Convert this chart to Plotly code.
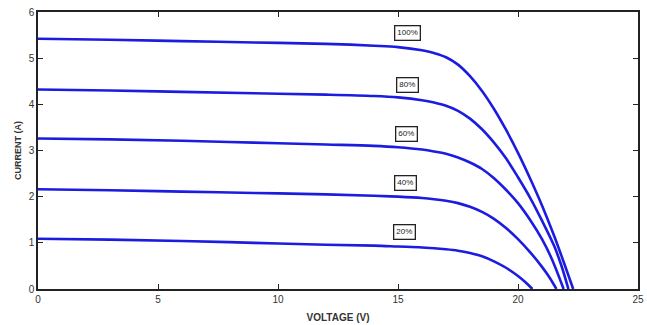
import plotly.graph_objects as go

# Irradiance levels and their I-V curves
levels = ["100%", "80%", "60%", "40%", "20%"]

v_100 = [0, 3, 6, 9, 12, 14, 15, 16, 16.5, 17, 17.5, 18, 18.5, 19, 19.5, 20, 20.5, 21, 21.5, 21.9, 22.3]
i_100 = [5.42, 5.40, 5.37, 5.34, 5.31, 5.27, 5.24, 5.17, 5.11, 5.02, 4.86, 4.61, 4.29, 3.90, 3.45, 2.95, 2.40, 1.81, 1.16, 0.59, 0.0]

v_80 = [0, 3, 6, 9, 12, 14, 15, 16, 16.5, 17, 17.5, 18, 18.5, 19, 19.5, 20, 20.5, 21, 21.5, 21.8, 22.1]
i_80 = [4.32, 4.30, 4.27, 4.24, 4.21, 4.18, 4.15, 4.09, 4.04, 3.97, 3.86, 3.69, 3.46, 3.17, 2.83, 2.42, 1.98, 1.48, 0.94, 0.52, 0.0]

v_60 = [0, 3, 6, 9, 12, 14, 15, 16, 16.5, 17, 17.5, 18, 18.5, 19, 19.5, 20, 20.5, 21, 21.4, 21.9]
i_60 = [3.26, 3.24, 3.21, 3.17, 3.13, 3.10, 3.07, 3.02, 2.98, 2.93, 2.85, 2.74, 2.60, 2.40, 2.15, 1.86, 1.50, 1.08, 0.66, 0.0]

v_40 = [0, 3, 6, 9, 12, 14, 15, 16, 16.5, 17, 17.5, 18, 18.5, 19, 19.5, 20, 20.5, 21, 21.3, 21.6]
i_40 = [2.16, 2.14, 2.11, 2.08, 2.05, 2.02, 2.00, 1.97, 1.945, 1.91, 1.86, 1.78, 1.67, 1.52, 1.32, 1.08, 0.80, 0.48, 0.26, 0.0]

v_20 = [0, 3, 6, 9, 12, 14, 15, 16, 17, 17.5, 18, 18.5, 19, 19.5, 20, 20.3, 20.6]
i_20 = [1.09, 1.07, 1.04, 1.00, 0.96, 0.94, 0.92, 0.90, 0.86, 0.83, 0.78, 0.71, 0.60, 0.46, 0.28, 0.15, 0.0]

# label anchor positions (data units)
label_v = [15.4, 15.4, 15.35, 15.3, 15.25]
label_i = [5.54, 4.42, 3.35, 2.29, 1.23]

x_ticks = [0, 5, 10, 15, 20, 25]
y_ticks = [0, 1, 2, 3, 4, 5, 6]

series = [(v_100, i_100), (v_80, i_80), (v_60, i_60), (v_40, i_40), (v_20, i_20)]

FONT = "Liberation Sans Narrow, Arial Narrow, Arial"

fig = go.Figure()
for (vv, ii), name in zip(series, levels):
    fig.add_trace(go.Scatter(
        x=vv, y=ii, mode="lines", name=name,
        line=dict(color="#1c1ce0", width=2.6, shape="spline", smoothing=1.0),
        showlegend=False, hoverinfo="skip",
    ))

for name, lv, li in zip(levels, label_v, label_i):
    fig.add_annotation(
        x=lv, y=li, text=name, showarrow=False,
        font=dict(family=FONT, size=8, color="#222"),
        bgcolor="white", bordercolor="#222", borderwidth=1.3, borderpad=2,
    )

axis_common = dict(
    showline=True, linecolor="#222", linewidth=1.5, mirror="ticks",
    ticks="inside", ticklen=5, tickwidth=1.2, tickcolor="#222",
    showgrid=False, zeroline=False, automargin=False,
    tickfont=dict(family=FONT, size=10, color="#333"),
)

fig.update_xaxes(range=[0, 25], tickvals=x_ticks, **axis_common,
                 title=dict(text="<b>VOLTAGE (V)</b>", standoff=10,
                            font=dict(family=FONT, size=10, color="#333")))
fig.update_yaxes(range=[0, 6], tickvals=y_ticks, **axis_common,
                 title=dict(text="<b>CURRENT (A)</b>", standoff=6,
                            font=dict(family=FONT, size=9, color="#333")))

fig.update_layout(
    width=647, height=325,
    margin=dict(l=38, r=9, t=12, b=36),
    paper_bgcolor="white", plot_bgcolor="white",
)

# remove the browser's default 8px body margin so the figure fills the window
fig.write_html("out.html", config={"displayModeBar": False},
               post_script="document.body.style.margin='0';")
